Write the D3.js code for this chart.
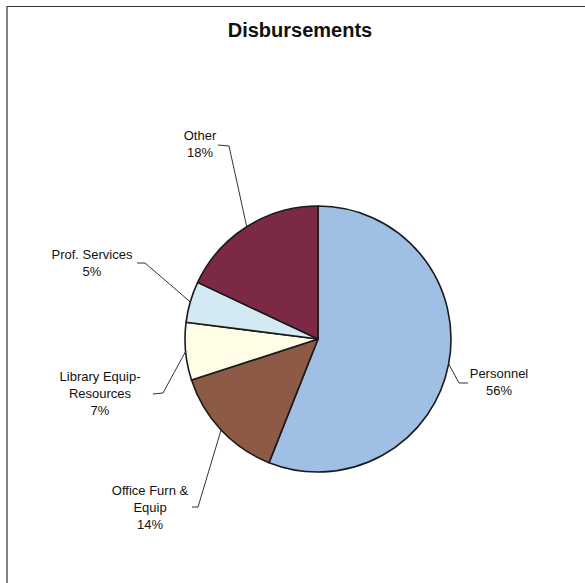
<!DOCTYPE html>
<html>
<head>
<meta charset="utf-8">
<script src="https://cdn.jsdelivr.net/npm/d3@7"></script>
<style>
  html, body { margin: 0; padding: 0; background: #fff; }
  svg { display: block; }
  text { font-family: Arial, "Liberation Sans", sans-serif; fill: #111; }
</style>
</head>
<body>
<svg id="chart" width="585" height="583"></svg>
<script>
// Disbursement shares (percent), clockwise from 12 o'clock
const categories = ["Personnel", "Office Furn & Equip", "Library Equip-Resources", "Prof. Services", "Other"];
const shares = [56, 14, 7, 5, 18];
const labelLines = [
  ["Personnel", "56%"],
  ["Office Furn &", "Equip", "14%"],
  ["Library Equip-", "Resources", "7%"],
  ["Prof. Services", "5%"],
  ["Other", "18%"]
];
const sliceColors = ["#a0bfe4", "#8d5b45", "#fffde6", "#d3e9f4", "#7b2945"];

// Label layout: text centre x, first baseline y, leader elbow start/end
const labelLayout = [
  { x: 499, y: 378, tick: [[468, 383], [459, 383]] },
  { x: 150, y: 495, tick: [[192, 507], [198, 507]] },
  { x: 100, y: 381, tick: [[153, 394], [163, 393]] },
  { x: 92,  y: 259, tick: [[137, 263], [145, 263]] },
  { x: 200, y: 140, tick: [[218, 145], [229, 146]] }
];

const svg = d3.select("#chart");
const cx = 318, cy = 339, r = 133;

// frame
svg.append("path")
  .attr("d", "M7,583 L7,6.5 L585,6.5")
  .attr("fill", "none")
  .attr("stroke", "#333")
  .attr("stroke-width", 1.2);

// title
svg.append("text")
  .attr("x", 300).attr("y", 37)
  .attr("text-anchor", "middle")
  .attr("font-size", 20)
  .attr("font-weight", "bold")
  .text("Disbursements");

const data = categories.map((c, i) => ({ name: c, value: shares[i], i }));
const pie = d3.pie().value(d => d.value).sort(null);
const arcs = pie(data);
const arc = d3.arc().innerRadius(0).outerRadius(r);
const edge = d3.arc().innerRadius(r).outerRadius(r);

const g = svg.append("g").attr("transform", `translate(${cx},${cy})`);
g.selectAll("path.slice")
  .data(arcs)
  .join("path")
  .attr("class", "slice")
  .attr("d", arc)
  .attr("fill", d => sliceColors[d.data.i])
  .attr("stroke", "#1a1a1a")
  .attr("stroke-width", 1.6)
  .attr("stroke-linejoin", "round");

// leader lines
const leaders = svg.append("g");
arcs.forEach(d => {
  const L = labelLayout[d.data.i];
  const [ex, ey] = edge.centroid(d);
  const pts = [L.tick[0], L.tick[1], [cx + ex, cy + ey]];
  leaders.append("path")
    .attr("d", d3.line()(pts))
    .attr("fill", "none")
    .attr("stroke", "#333")
    .attr("stroke-width", 1);
});

// labels
const labels = svg.append("g");
arcs.forEach(d => {
  const L = labelLayout[d.data.i];
  const t = labels.append("text")
    .attr("text-anchor", "middle")
    .attr("font-size", 13);
  labelLines[d.data.i].forEach((line, k) => {
    t.append("tspan").attr("x", L.x).attr("y", L.y + k * 17).text(line);
  });
});
</script>
</body>
</html>
